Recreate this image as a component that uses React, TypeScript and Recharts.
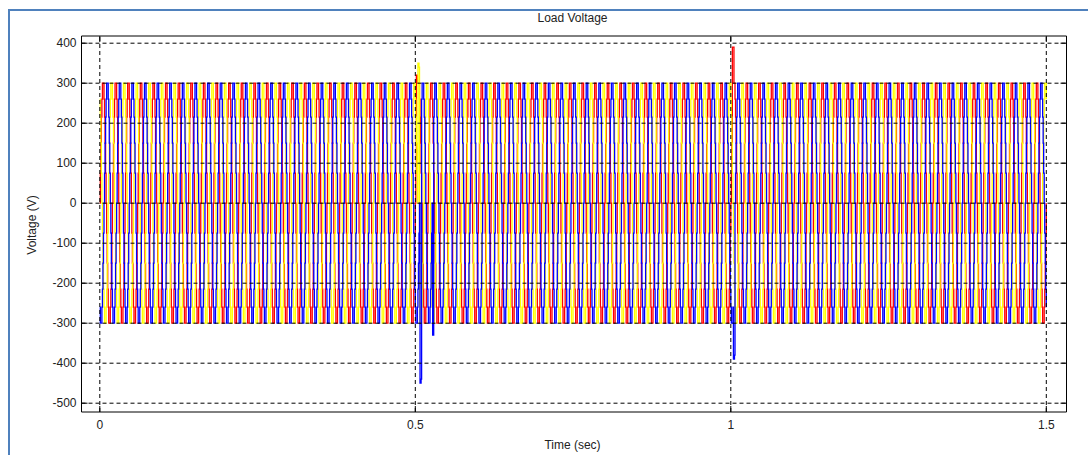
import React from "react";
import { ComposedChart, Line, XAxis, YAxis, ReferenceLine, ReferenceArea } from "recharts";

// ---- data ----
const PERIOD = 0.02; // 50 Hz
const CYCLES = 75; // 0 .. 1.5 s
// one cycle of the stepped (multilevel) phase voltage, 24 steps of 15°
const CYCLE_LEVELS = [0, 75, 150, 215, 260, 300, 300, 300, 260, 215, 150, 75, 0, -75, -150, -215, -260, -300, -300, -300, -260, -215, -150, -75];
// phase offsets in steps (red = 0°, yellow = -120°, blue = +120°)
const RED_OFFSET = 0;
const YELLOW_OFFSET = -8;
const BLUE_OFFSET = 8;
// transients read at t = 0.5 s and t = 1.0 s : [time, value]
const RED_SPIKES: [number, number][] = [[0.5017, 320], [0.5025, 320], [0.5033, 300], [1.0025, 390], [1.0033, 390], [1.0042, 390]];
const YELLOW_SPIKES: [number, number][] = [[0.5042, 350], [0.505, 350], [0.5058, 340]];
const BLUE_SPIKES: [number, number][] = [[0.5075, -450], [0.5083, -450], [0.5092, -440], [0.5275, -330], [0.5283, -330], [1.0042, -390], [1.005, -390], [1.0058, -380]];
const Y_TICKS = [-500, -400, -300, -200, -100, 0, 100, 200, 300, 400];
const X_TICKS = [0, 0.5, 1, 1.5];

const STEPS = CYCLE_LEVELS.length;
const dt = PERIOD / STEPS;
const N = CYCLES * STEPS;
const level = (k: number, off: number) => CYCLE_LEVELS[(((k - off) % STEPS) + STEPS) % STEPS];
const rows: { t: number; r: number; y: number; b: number }[] = [];
for (let k = 0; k <= N; k++) {
  rows.push({ t: +(k * dt).toFixed(6), r: level(k, RED_OFFSET), y: level(k, YELLOW_OFFSET), b: level(k, BLUE_OFFSET) });
}
const applySpikes = (list: [number, number][], key: "r" | "y" | "b") => {
  list.forEach(([t, v]) => {
    const idx = Math.round(t / dt);
    if (rows[idx]) rows[idx][key] = v;
  });
};
applySpikes(RED_SPIKES, "r");
applySpikes(YELLOW_SPIKES, "y");
applySpikes(BLUE_SPIKES, "b");

const X_DOMAIN: [number, number] = [-0.029, 1.532];
const Y_DOMAIN: [number, number] = [-522, 418];
const FONT = "'Liberation Sans', Arial, sans-serif";
const PLOT_LEFT = 81.5;
const PLOT_RIGHT = 1066.5;
const PLOT_TOP = 36;
const PLOT_BOTTOM = 412;

const YTick = (p: any) => (
  <g>
    <text x={p.x} y={p.y} dy={4} textAnchor="end" fontSize={12} fill="#222" fontFamily={FONT}>{p.payload.value}</text>
    <line x1={PLOT_LEFT} x2={PLOT_LEFT + 6} y1={p.y} y2={p.y} stroke="#000" />
    <line x1={PLOT_RIGHT - 6} x2={PLOT_RIGHT} y1={p.y} y2={p.y} stroke="#000" />
  </g>
);
const XTick = (p: any) => (
  <g>
    <text x={p.x} y={p.y} dy={10} textAnchor="middle" fontSize={12} fill="#222" fontFamily={FONT}>{p.payload.value}</text>
    <line x1={p.x} x2={p.x} y1={PLOT_BOTTOM} y2={PLOT_BOTTOM - 6} stroke="#000" />
    <line x1={p.x} x2={p.x} y1={PLOT_TOP} y2={PLOT_TOP + 6} stroke="#000" />
  </g>
);

export default function App() {
  return (
    <div style={{ position: "absolute", left: 0, top: 0, width: 1088, height: 455, background: "#fff", overflow: "hidden" }}>
      <div style={{ position: "absolute", left: 8, top: 9, width: 1080, height: 446, borderLeft: "2px solid #4f81bd", borderTop: "2px solid #4f81bd" }} />
      <div style={{ position: "absolute", left: 0, width: 1145, top: 11, textAlign: "center", fontFamily: FONT, fontSize: 12, color: "#222" }}>Load Voltage</div>
      <div style={{ position: "absolute", left: 0, width: 1145, top: 438, textAlign: "center", fontFamily: FONT, fontSize: 12, color: "#222" }}>Time (sec)</div>
      <div style={{ position: "absolute", left: 32, top: 225, transform: "translate(-50%, -50%) rotate(-90deg)", whiteSpace: "nowrap", fontFamily: FONT, fontSize: 12, color: "#222" }}>Voltage (V)</div>
      <div style={{ position: "absolute", left: 0, top: 0 }}>
        <ComposedChart width={1088} height={455} data={rows} margin={{ top: PLOT_TOP, right: 1088 - PLOT_RIGHT, left: PLOT_LEFT - 40, bottom: 455 - PLOT_BOTTOM - 30 }}>
          <XAxis dataKey="t" type="number" domain={X_DOMAIN} ticks={X_TICKS} allowDataOverflow height={30} tickSize={0} tickMargin={7} axisLine={false} tickLine={false} tick={<XTick />} />
          <YAxis type="number" domain={Y_DOMAIN} ticks={Y_TICKS} allowDataOverflow width={40} tickSize={0} tickMargin={5} axisLine={false} tickLine={false} tick={<YTick />} />
          <Line dataKey="r" type="stepAfter" stroke="#ff0000" strokeWidth={1.3} dot={false} isAnimationActive={false} />
          <Line dataKey="y" type="stepAfter" stroke="#ffff00" strokeWidth={1.3} dot={false} isAnimationActive={false} />
          <Line dataKey="b" type="stepAfter" stroke="#0000ff" strokeWidth={1.3} dot={false} isAnimationActive={false} />
          {Y_TICKS.map((v) => (
            <ReferenceLine key={"h" + v} y={v} stroke="#000" strokeWidth={1} strokeDasharray="4 3" />
          ))}
          {X_TICKS.map((v) => (
            <ReferenceLine key={"v" + v} x={v} stroke="#000" strokeWidth={1} strokeDasharray="4 3" />
          ))}
          <ReferenceArea x1={X_DOMAIN[0]} x2={X_DOMAIN[1]} y1={Y_DOMAIN[0]} y2={Y_DOMAIN[1]} fill="none" stroke="#000" strokeWidth={1} ifOverflow="visible" />
        </ComposedChart>
      </div>
    </div>
  );
}
